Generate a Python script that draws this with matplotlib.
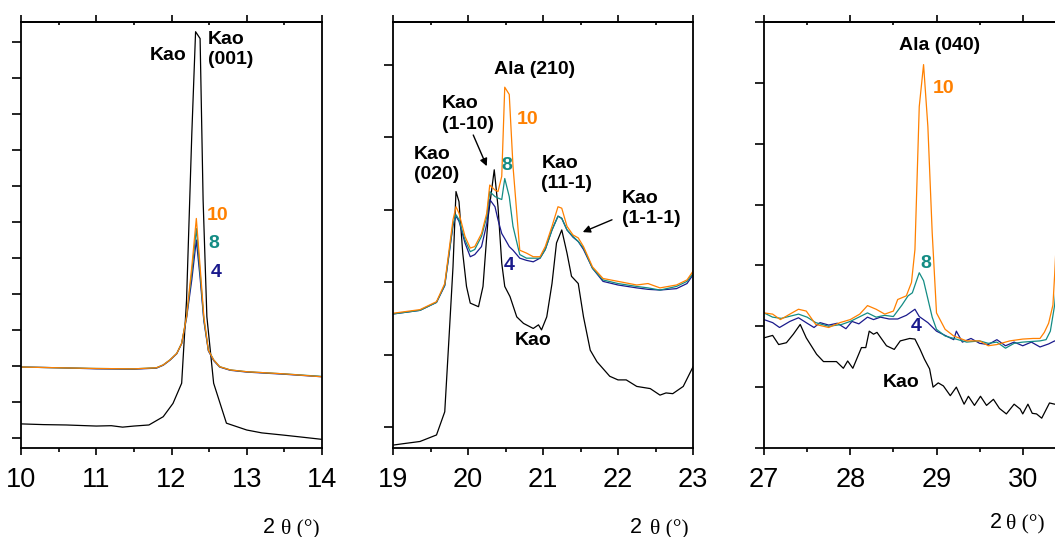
import numpy as np
import matplotlib
matplotlib.use("Agg")
import matplotlib.pyplot as plt
from matplotlib.ticker import MultipleLocator, FixedLocator

plt.rcParams['font.family'] = ['Liberation Sans', 'DejaVu Sans']

ORANGE = '#FF8000'
TEAL = '#138C84'
NAVY = '#1A1A8C'

# ---- panel 1: 10-14 deg (intensity in tick units) ----
x1c = [10.0, 10.5, 11.0, 11.5, 11.8, 11.89, 11.98, 12.07, 12.135, 12.2, 12.27, 12.33,
       12.38, 12.43, 12.49, 12.56, 12.64, 12.78, 13.0, 13.5, 14.0]
orange1 = [1.97, 1.95, 1.93, 1.92, 1.95, 2.03, 2.17, 2.35, 2.63, 3.37, 4.76, 6.10,
           4.76, 3.37, 2.44, 2.17, 1.98, 1.89, 1.84, 1.78, 1.70]
teal1 = [1.97, 1.95, 1.93, 1.92, 1.95, 2.03, 2.17, 2.35, 2.63, 3.37, 4.60, 5.82,
         4.60, 3.30, 2.44, 2.17, 1.98, 1.89, 1.84, 1.78, 1.71]
navy1 = [1.97, 1.95, 1.92, 1.91, 1.94, 2.02, 2.16, 2.34, 2.62, 3.33, 4.40, 5.50,
         4.45, 3.25, 2.42, 2.15, 1.97, 1.88, 1.83, 1.77, 1.70]
x1k = [10.0, 10.3, 10.6, 11.0, 11.2, 11.35, 11.5, 11.7, 11.89, 12.02, 12.135, 12.2, 12.27,
       12.32, 12.38, 12.42, 12.47, 12.56, 12.73, 13.0, 13.2, 13.48, 13.7, 14.0]
kao1 = [0.39, 0.37, 0.36, 0.33, 0.34, 0.30, 0.33, 0.36, 0.59, 0.96, 1.52, 3.83, 8.46,
        11.29, 11.10, 6.61, 3.37, 1.52, 0.41, 0.22, 0.14, 0.08, 0.03, -0.04]

# ---- panel 2: 19-23 deg ----
x2c = [19.0, 19.36, 19.58, 19.69, 19.8, 19.84, 19.88, 19.96, 20.03, 20.09, 20.18, 20.25,
       20.29, 20.36, 20.4, 20.45, 20.49, 20.55, 20.6, 20.69, 20.78, 20.87, 20.96, 21.03,
       21.12, 21.2, 21.25, 21.32, 21.4, 21.47, 21.54, 21.66, 21.8, 22.0, 22.25, 22.4,
       22.56, 22.78, 22.92, 23.0]
orange2 = [1.57, 1.62, 1.73, 1.98, 2.86, 3.04, 2.95, 2.63, 2.47, 2.49, 2.67, 2.95,
           3.34, 3.27, 3.25, 3.46, 4.69, 4.59, 3.60, 2.44, 2.40, 2.35, 2.35, 2.49,
           2.77, 3.04, 3.02, 2.77, 2.65, 2.61, 2.49, 2.21, 2.05, 2.01, 1.96, 1.98,
           1.92, 1.96, 2.03, 2.15]
teal2 = [1.56, 1.61, 1.72, 1.96, 2.80, 2.93, 2.86, 2.58, 2.42, 2.45, 2.63, 2.90,
         3.25, 3.18, 3.16, 3.14, 3.43, 3.18, 2.77, 2.38, 2.33, 2.33, 2.33, 2.45,
         2.72, 2.91, 2.88, 2.72, 2.63, 2.56, 2.47, 2.19, 2.03, 1.98, 1.94, 1.92,
         1.89, 1.94, 2.01, 2.12]
navy2 = [1.56, 1.61, 1.72, 1.95, 2.78, 2.91, 2.84, 2.54, 2.35, 2.38, 2.49, 2.80,
         3.14, 3.04, 2.86, 2.67, 2.60, 2.49, 2.44, 2.33, 2.30, 2.28, 2.33, 2.45,
         2.72, 2.91, 2.88, 2.72, 2.62, 2.56, 2.45, 2.19, 2.01, 1.96, 1.92, 1.90,
         1.89, 1.91, 1.98, 2.10]
x2k = [19.0, 19.14, 19.36, 19.58, 19.69, 19.75, 19.8, 19.84, 19.88, 19.93, 19.98, 20.03,
       20.14, 20.2, 20.27, 20.35, 20.4, 20.45, 20.49, 20.56, 20.65, 20.74, 20.87, 20.94,
       20.98, 21.05, 21.12, 21.18, 21.25, 21.32, 21.38, 21.47, 21.54, 21.63, 21.72,
       21.89, 22.0, 22.11, 22.25, 22.43, 22.56, 22.64, 22.73, 22.87, 23.0]
kao2 = [-0.25, -0.23, -0.20, -0.11, 0.21, 1.29, 2.21, 3.25, 3.11, 2.40, 1.94, 1.71,
        1.66, 1.94, 2.91, 3.55, 3.04, 2.26, 1.94, 1.80, 1.52, 1.43, 1.36, 1.41,
        1.34, 1.52, 1.98, 2.54, 2.72, 2.40, 2.08, 1.98, 1.52, 1.06, 0.90,
        0.70, 0.65, 0.65, 0.56, 0.53, 0.44, 0.47, 0.46, 0.56, 0.83]

# ---- panel 3: 27-31 deg ----
x3o = [27.0, 27.1, 27.19, 27.3, 27.4, 27.49, 27.6, 27.75, 27.88, 28.0, 28.11, 28.2,
       28.3, 28.4, 28.5, 28.55, 28.65, 28.71, 28.75, 28.8, 28.85, 28.9, 28.95, 29.0,
       29.1, 29.2, 29.35, 29.5, 29.6, 29.7, 29.85, 30.0, 30.12, 30.2, 30.25, 30.3,
       30.35, 30.37, 30.41]
orange3 = [1.22, 1.20, 1.11, 1.20, 1.28, 1.25, 1.03, 0.98, 1.06, 1.11, 1.20, 1.34,
           1.28, 1.20, 1.25, 1.44, 1.50, 1.72, 2.26, 4.61, 5.30, 4.28, 2.54, 1.22,
           0.95, 0.84, 0.76, 0.76, 0.68, 0.70, 0.76, 0.79, 0.80, 0.80, 0.90, 1.05,
           1.35, 1.85, 3.0]
x3t = [27.0, 27.1, 27.2, 27.4, 27.5, 27.6, 27.75, 27.9, 28.0, 28.2, 28.3, 28.4, 28.5,
       28.6, 28.67, 28.72, 28.8, 28.85, 28.9, 28.95, 29.0, 29.1, 29.2, 29.35, 29.5,
       29.6, 29.7, 29.8, 29.9, 30.0, 30.2, 30.27, 30.32, 30.37, 30.42]
teal3 = [1.22, 1.15, 1.13, 1.20, 1.15, 1.06, 1.00, 1.03, 1.08, 1.22, 1.15, 1.18, 1.16,
         1.35, 1.50, 1.55, 1.88, 1.75, 1.45, 1.15, 0.95, 0.84, 0.80, 0.74, 0.76,
         0.72, 0.74, 0.64, 0.72, 0.74, 0.76, 0.78, 0.92, 1.35, 2.2]
x3n = [27.0, 27.1, 27.18, 27.3, 27.4, 27.5, 27.58, 27.65, 27.75, 27.85, 27.95, 28.02,
       28.1, 28.2, 28.27, 28.35, 28.45, 28.55, 28.65, 28.75, 28.8, 28.9, 29.0, 29.1,
       29.2, 29.23, 29.3, 29.4, 29.5, 29.6, 29.7, 29.8, 29.9, 30.0, 30.1, 30.2, 30.3,
       30.37, 30.45, 30.6]
navy3 = [1.11, 1.06, 0.98, 1.08, 1.14, 1.05, 0.98, 1.06, 1.02, 1.05, 0.96, 1.08,
         1.04, 1.15, 1.11, 1.15, 1.12, 1.12, 1.18, 1.28, 1.16, 1.06, 0.92, 0.85,
         0.78, 0.92, 0.74, 0.80, 0.72, 0.70, 0.78, 0.68, 0.74, 0.68, 0.74, 0.66, 0.71,
         0.76, 0.70, 0.72]
x3k = [27.0, 27.1, 27.17, 27.26, 27.34, 27.42, 27.49, 27.61, 27.69, 27.84, 27.92, 27.97,
       28.03, 28.13, 28.18, 28.22, 28.27, 28.31, 28.42, 28.51, 28.58, 28.69, 28.75, 28.81,
       28.86, 28.92, 28.96, 29.02, 29.08, 29.16, 29.23, 29.32, 29.37, 29.44, 29.51, 29.58,
       29.66, 29.73, 29.81, 29.9, 29.97, 30.0, 30.06, 30.11, 30.16, 30.22, 30.31, 30.37, 30.5]
kao3 = [0.81, 0.85, 0.70, 0.73, 0.87, 1.03, 0.81, 0.54, 0.42, 0.42, 0.31, 0.43,
        0.31, 0.65, 0.65, 0.92, 0.87, 0.90, 0.68, 0.62, 0.76, 0.80, 0.79, 0.62,
        0.46, 0.30, 0.0, 0.07, 0.02, -0.14, 0.0, -0.28, -0.15, -0.30, -0.15, -0.30,
        -0.20, -0.35, -0.44, -0.28, -0.36, -0.44, -0.28, -0.43, -0.44, -0.51, -0.26, -0.28, -0.30]

W, H = 1055, 537
fig = plt.figure(figsize=(W / 100, H / 100), dpi=100)


def make_axes(left_px, width_px, xlim, ylim, yticks, xticks, right_spine=True):
    ax = fig.add_axes([left_px / W, (H - 448) / H, width_px / W, 426 / H])
    ax.set_xlim(*xlim)
    ax.set_ylim(*ylim)
    ax.set_yticks(yticks)
    ax.set_yticklabels([])
    ax.xaxis.set_major_locator(FixedLocator(xticks))
    ax.xaxis.set_minor_locator(MultipleLocator(0.5))
    ax.tick_params(axis='x', which='major', direction='out', length=5, width=1.2,
                   labelsize=19.5, pad=9, top=False)
    ax.tick_params(axis='x', which='minor', direction='out', length=3, width=1.2, top=False)
    ax.tick_params(axis='y', which='major', direction='out', length=6.5, width=1.2,
                   right=False)
    ax.tick_params(axis='y', which='minor', left=False, right=False)
    for s in ax.spines.values():
        s.set_linewidth(1.3)
    ax.spines['right'].set_visible(right_spine)
    # top axis: major ticks point up, minor ticks point in
    sec = ax.secondary_xaxis('top')
    sec.xaxis.set_major_locator(FixedLocator(xticks))
    sec.xaxis.set_minor_locator(MultipleLocator(0.5))
    sec.tick_params(which='major', direction='out', length=5, width=1.2, labeltop=False)
    sec.tick_params(which='minor', direction='in', length=2, width=1.2)
    sec.spines['top'].set_linewidth(1.3)
    return ax


lw = 0.9

ax1 = make_axes(21, 301, (10, 14), (-0.28, 11.56), range(0, 12), [10, 11, 12, 13, 14])
ax1.plot(x1k, kao1, color='black', lw=lw)
ax1.plot(x1c, navy1, color=NAVY, lw=lw)
ax1.plot(x1c, teal1, color=TEAL, lw=lw)
ax1.plot(x1c, orange1, color=ORANGE, lw=lw)

ax2 = make_axes(393, 300, (19, 23), (-0.29, 5.59), range(0, 6), [19, 20, 21, 22, 23])
ax2.plot(x2k, kao2, color='black', lw=lw)
ax2.plot(x2c, navy2, color=NAVY, lw=lw)
ax2.plot(x2c, teal2, color=TEAL, lw=lw)
ax2.plot(x2c, orange2, color=ORANGE, lw=lw)

ax3 = make_axes(764, 345, (27, 31), (-1, 6), range(-1, 7), [27, 28, 29, 30],
                right_spine=False)
ax3.plot(x3k, kao3, color='black', lw=lw)
ax3.plot(x3n, navy3, color=NAVY, lw=lw)
ax3.plot(x3t, teal3, color=TEAL, lw=lw)
ax3.plot(x3o, orange3, color=ORANGE, lw=lw)

fs = 14
bold = dict(fontsize=fs, fontweight='bold')

# panel 1 labels
ax1.text(11.96, 10.64, 'Kao', ha='center', va='center', **bold)
ax1.text(12.485, 10.79, 'Kao\n(001)', ha='left', va='center', linespacing=1.25, **bold)
ax1.text(12.61, 6.19, '10', color=ORANGE, ha='center', va='center', **bold)
ax1.text(12.56, 5.39, '8', color=TEAL, ha='center', va='center', **bold)
ax1.text(12.60, 4.60, '4', color=NAVY, ha='center', va='center', **bold)

# panel 2 labels
ax2.text(20.89, 4.93, 'Ala (210)', ha='center', va='center', **bold)
ax2.text(19.65, 4.32, 'Kao\n(1-10)', ha='left', va='center', linespacing=1.25, **bold)
ax2.text(19.28, 3.62, 'Kao\n(020)', ha='left', va='center', linespacing=1.25, **bold)
ax2.text(20.98, 3.50, 'Kao\n(11-1)', ha='left', va='center', linespacing=1.25, **bold)
ax2.text(22.05, 3.02, 'Kao\n(1-1-1)', ha='left', va='center', linespacing=1.25, **bold)
ax2.text(20.80, 4.24, '10', color=ORANGE, ha='center', va='center', **bold)
ax2.text(20.52, 3.61, '8', color=TEAL, ha='center', va='center', **bold)
ax2.text(20.55, 2.23, '4', color=NAVY, ha='center', va='center', **bold)
ax2.text(20.87, 1.20, 'Kao', ha='center', va='center', **bold)
arrow = dict(arrowstyle='-|>', color='black', lw=1.0, mutation_scale=11,
             shrinkA=0, shrinkB=0)
ax2.annotate('', xy=(20.25, 3.60), xytext=(20.07, 4.03), arrowprops=arrow)
ax2.annotate('', xy=(21.53, 2.69), xytext=(21.92, 2.86), arrowprops=arrow)

# panel 3 labels
ax3.text(29.03, 5.61, 'Ala (040)', ha='center', va='center', **bold)
ax3.text(29.08, 4.91, '10', color=ORANGE, ha='center', va='center', **bold)
ax3.text(28.88, 2.03, '8', color=TEAL, ha='center', va='center', **bold)
ax3.text(28.76, 1.00, '4', color=NAVY, ha='center', va='center', **bold)
ax3.text(28.59, 0.07, 'Kao', ha='center', va='center', **bold)

# x-axis labels: "2" sans, theta and degree in serif
for x2_px, th_px, base_px in ((275, 281, 533), (642, 650, 533), (1002, 1006, 528)):
    fig.text(x2_px / W, (H - base_px) / H, '2', ha='right', va='baseline', fontsize=15.5)
    fig.text(th_px / W, (H - base_px) / H, 'θ (°)', ha='left', va='baseline',
             fontsize=15.5, family=['Liberation Serif', 'DejaVu Serif'])

fig.savefig('out.png', dpi=100)
